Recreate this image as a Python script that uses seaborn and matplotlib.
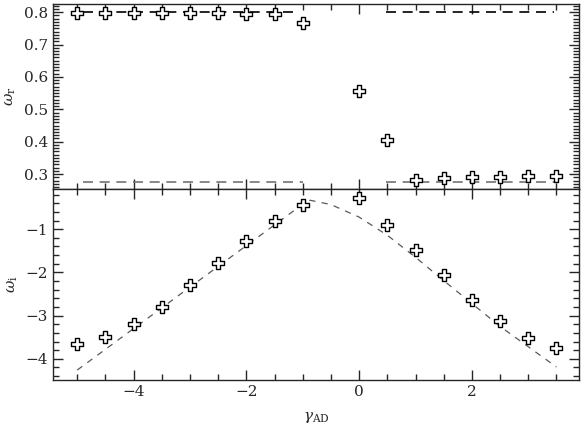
import matplotlib
matplotlib.use("Agg")
import matplotlib.pyplot as plt
from matplotlib.ticker import MultipleLocator
import numpy as np
import pandas as pd
import seaborn as sns

# data
gamma_r = [-5, -4.5, -4, -3.5, -3, -2.5, -2, -1.5, -1, 0, 0.5, 1, 1.5, 2, 2.5, 3, 3.5]
omega_r = [0.797, 0.797, 0.797, 0.797, 0.797, 0.797, 0.795, 0.795, 0.765,
           0.555, 0.405, 0.281, 0.287, 0.291, 0.292, 0.293, 0.294]
omega_i = [-3.65, -3.49, -3.19, -2.79, -2.28, -1.79, -1.28, -0.81, -0.44,
           -0.28, -0.91, -1.49, -2.07, -2.65, -3.12, -3.51, -3.74]

# asymptotic branches (top panel)
hi_left_x, hi_left_y = [-4.9, -1.08], [0.8, 0.8]
hi_right_x, hi_right_y = [0.48, 3.45], [0.8, 0.8]
lo_left_x, lo_left_y = [-4.9, -1.0], [0.275, 0.275]
lo_right_x, lo_right_y = [0.48, 3.5], [0.275, 0.275]

# model curve (bottom panel)
curve_x = [-5, -4, -3, -2, -1, -0.87, -0.5, 0, 0.5, 1, 1.5, 2, 2.5, 3, 3.5]
curve_y = [-4.26, -3.30, -2.34, -1.38, -0.42, -0.33, -0.43, -0.72, -1.14,
           -1.65, -2.19, -2.72, -3.25, -3.72, -4.19]

sns.set_style("ticks")
plt.rcParams['font.family'] = ['DejaVu Serif']
plt.rcParams['mathtext.fontset'] = 'dejavuserif'

fig = plt.figure(figsize=(5.81, 4.26), dpi=100)
ax1 = fig.add_axes([0.0912, 0.5563, 0.9054, 0.4343])
ax2 = fig.add_axes([0.0912, 0.108, 0.9054, 0.4483], sharex=ax1)

df = pd.DataFrame({"g": gamma_r, "wr": omega_r, "wi": omega_i})
mk = dict(marker="P", s=75, facecolor="white", edgecolor="black", linewidth=1.0, zorder=3)

dash_black = dict(color="black", linewidth=1.2, dashes=(6, 4))
dash_gray = dict(color="0.45", linewidth=1.2, dashes=(6, 4))
for xs, ys, st in [(hi_left_x, hi_left_y, dash_black), (hi_right_x, hi_right_y, dash_black),
                   (lo_left_x, lo_left_y, dash_gray), (lo_right_x, lo_right_y, dash_gray)]:
    sns.lineplot(x=xs, y=ys, ax=ax1, **st)
sns.scatterplot(data=df, x="g", y="wr", ax=ax1, **mk)

sns.lineplot(x=curve_x, y=curve_y, ax=ax2, color="0.35", linewidth=0.9, dashes=(5, 5), sort=False)
sns.scatterplot(data=df, x="g", y="wi", ax=ax2, **mk)

ax1.set_xlim(-5.43, 3.9)
ax1.set_ylim(0.254, 0.825)
ax2.set_ylim(-4.49, -0.07)

fmt = matplotlib.ticker.FuncFormatter(lambda v, p: "\u2212%d" % abs(v) if v < 0 else "%d" % v)
for ax in (ax1, ax2):
    ax.tick_params(direction="in", which="both", top=True, right=True, labelsize=11)
    ax.tick_params(which="major", length=7, width=1)
    ax.tick_params(which="minor", length=4, width=1)
    for s in ax.spines.values():
        s.set_linewidth(1.0)
    ax.xaxis.set_major_locator(MultipleLocator(2))
    ax.xaxis.set_minor_locator(MultipleLocator(0.5))

ax1.yaxis.set_major_locator(MultipleLocator(0.1))
ax1.yaxis.set_minor_locator(MultipleLocator(0.01))
ax1.yaxis.set_major_formatter(matplotlib.ticker.FormatStrFormatter("%.1f"))
ax2.yaxis.set_major_locator(MultipleLocator(1))
ax2.yaxis.set_minor_locator(MultipleLocator(0.2))
ax2.yaxis.set_major_formatter(fmt)
ax2.xaxis.set_major_formatter(fmt)
plt.setp(ax1.get_xticklabels(), visible=False)

ax1.set_xlabel("")
ax1.set_ylabel(r"$\omega_{\rm r}$", fontsize=11, labelpad=4)
ax2.set_ylabel(r"$\omega_{\rm i}$", fontsize=11, labelpad=4)
ax2.set_xlabel(r"$\gamma_{\rm AD}$", fontsize=11, labelpad=8)

fig.savefig("out.png", dpi=100)
